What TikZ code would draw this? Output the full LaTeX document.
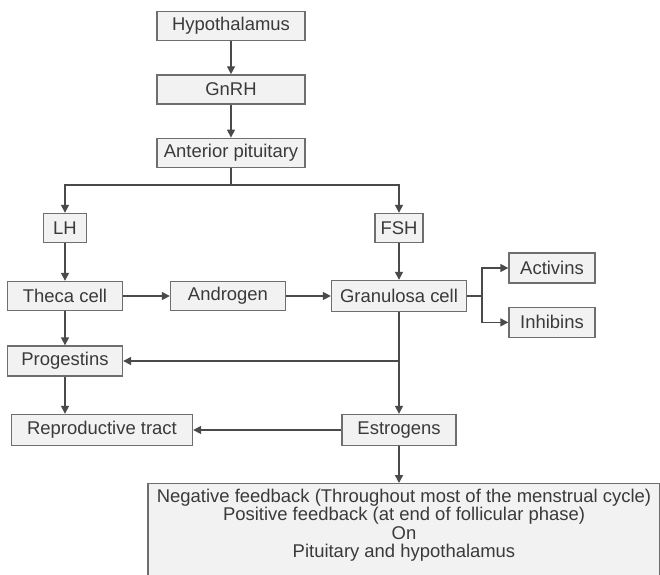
\documentclass[tikz,border=0pt]{standalone}
\usepackage{fontspec}
\setmainfont{Liberation Sans}
\usetikzlibrary{arrows.meta, positioning}

\definecolor{boxline}{HTML}{6E6E6E}
\definecolor{boxfill}{HTML}{F2F2F2}
\definecolor{txtgray}{HTML}{3A3A3A}
\definecolor{wire}{HTML}{4A4A4A}

\begin{document}
\begin{tikzpicture}[
    x=0.02cm, y=-0.02cm,
    node distance=0.66cm,
    box/.style={
        rectangle, draw=boxline, fill=boxfill, line width=0.8pt,
        minimum height=0.58cm, inner sep=0pt,
        align=center, text=txtgray, font=\fontsize{10.5}{10.5}\selectfont
    },
    arr/.style={-{Triangle[length=4.5pt, width=4.5pt]}, draw=wire, line width=0.8pt},
    line/.style={draw=wire, line width=0.8pt},
]
\useasboundingbox (0,0) rectangle (660,575);

% Top chain: hypothalamus -> GnRH -> anterior pituitary
\node[box, minimum width=2.96cm] (hyp) at (231,26) {Hypothalamus};
\node[box, minimum width=2.96cm, below=of hyp] (gnrh) {GnRH};
\node[box, minimum width=2.96cm, below=of gnrh] (ant) {Anterior pituitary};

% Gonadotropins
\node[box, minimum width=0.86cm] (lh) at (65,228) {LH};
\node[box, minimum width=0.96cm] (fsh) at (399,228) {FSH};

% Cells and androgen
\node[box, minimum width=2.3cm] (theca) at (65,296) {Theca cell};
\node[box, minimum width=2.3cm] (andro) at (228,296) {Androgen};
\node[box, minimum width=2.7cm, minimum height=0.62cm] (gran) at (399,296) {Granulosa cell};

% Activins / inhibins (right)
\node[box, minimum width=1.72cm, minimum height=0.6cm] (act) at (552,268) {Activins};
\node[box, minimum width=1.72cm, minimum height=0.6cm, below=0.46cm of act] (inh) {Inhibins};

% Steroids and target
\node[box, minimum width=2.3cm, minimum height=0.6cm] (prog) at (65,361) {Progestins};
\node[box, minimum width=3.62cm, minimum height=0.62cm] (repro) at (102,430) {Reproductive tract};
\node[box, minimum width=2.28cm, minimum height=0.62cm] (est) at (399,430) {Estrogens};

% Feedback box (runs off the bottom edge)
\node[box, anchor=north, minimum width=10.24cm, inner ysep=3pt] (fb) at (404,483)
    {Negative feedback (Throughout most of the menstrual cycle)\\
     Positive feedback (at end of follicular phase)\\
     On\\
     Pituitary and hypothalamus\\
     \strut\\ \strut};

% Connectors
\draw[arr] (hyp) -- (gnrh);
\draw[arr] (gnrh) -- (ant);

\coordinate (split) at (ant.south |- 0,185);
\draw[line] (ant.south) -- (split);
\draw[arr] (split) -| (lh.north);
\draw[arr] (split) -| (fsh.north);

\draw[arr] (lh) -- (theca);
\draw[arr] (fsh) -- (gran);
\draw[arr] (theca) -- (andro);
\draw[arr] (andro) -- (gran);

% Granulosa branches to activins and inhibins
\coordinate (gbr) at (482,296);
\draw[line] (gran.east) -- (gbr);
\draw[arr] (gbr) |- (act.west);
\draw[arr] (gbr) |- (inh.west);

\draw[arr] (theca) -- (prog);
\draw[arr] (gran) -- (est);
\draw[arr] (gran.south |- prog.east) -- (prog.east);
\draw[arr] (prog.south) -- (prog.south |- repro.north);
\draw[arr] (est) -- (repro);
\draw[arr] (est.south) -- (est.south |- fb.north);

\end{tikzpicture}
\end{document}
